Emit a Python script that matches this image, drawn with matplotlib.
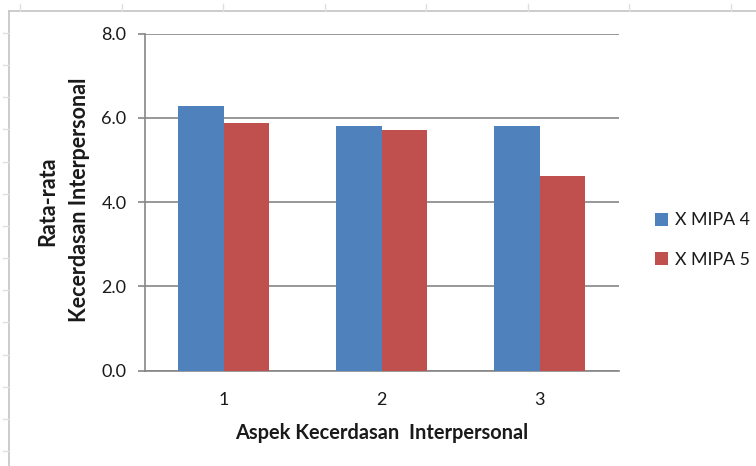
import matplotlib
matplotlib.use("Agg")
import matplotlib.pyplot as plt
from matplotlib.lines import Line2D
import numpy as np

categories = ["1", "2", "3"]
series_names = ["X MIPA 4", "X MIPA 5"]
mipa4 = [6.28, 5.80, 5.80]
mipa5 = [5.87, 5.72, 4.62]
yticks = [0.0, 2.0, 4.0, 6.0, 8.0]

blue = "#4F81BD"
red = "#C0504D"
grid_c = "#868686"

W, H = 756, 466
fig = plt.figure(figsize=(W / 100, H / 100), dpi=100)
fig.patch.set_facecolor("white")

ax = fig.add_axes([144.6 / W, 1 - 370.7 / H, (618.6 - 144.6) / W, (370.7 - 33.6) / H])

x = np.arange(len(categories))
bw = 0.288
ax.bar(x - bw / 2, mipa4, width=bw, color=blue, label=series_names[0], zorder=3)
ax.bar(x + bw / 2, mipa5, width=bw, color=red, label=series_names[1], zorder=3)

ax.set_xlim(-0.5, 2.5)
ax.set_ylim(0, 8)
ax.set_yticks(yticks)
ax.set_yticklabels([f"{v:.1f}" for v in yticks], fontfamily="Lato", fontsize=13, color="#1a1a1a")
ax.set_xticks(x)
ax.set_xticklabels(categories, fontfamily="Lato", fontsize=13, color="#1a1a1a")
ax.tick_params(axis="x", length=0, pad=15)
ax.tick_params(axis="y", length=5, color=grid_c, width=1.2, pad=8)
ax.yaxis.grid(True, color=grid_c, linewidth=1.2, zorder=0)
for s in ["top", "right"]:
    ax.spines[s].set_visible(False)
ax.spines["left"].set_color(grid_c)
ax.spines["bottom"].set_color(grid_c)
ax.spines["left"].set_linewidth(1.2)
ax.spines["bottom"].set_linewidth(1.2)

ax.set_xlabel("Aspek Kecerdasan  Interpersonal", fontfamily="Lato", fontweight="bold",
              fontsize=14.4, labelpad=11, color="#1a1a1a")
fig.text(58 / W, 1 - 201 / H, "Rata-rata", rotation=90, ha="right", va="center",
         fontfamily="Lato", fontweight="bold", fontsize=15.5, color="#1a1a1a")
fig.text(80 / W, 1 - 200 / H, "Kecerdasan Interpersonal", rotation=90, ha="center", va="center",
         fontfamily="Lato", fontweight="bold", fontsize=15.5, color="#1a1a1a")

leg = ax.legend(loc="center left", bbox_to_anchor=(639 / W, 1 - 240 / H),
                bbox_transform=fig.transFigure, frameon=False,
                prop={"family": "Lato", "size": 12.8}, handlelength=0.72, handleheight=0.72,
                handletextpad=0.4, labelspacing=1.3)
for t in leg.get_texts():
    t.set_color("#1a1a1a")

# page frame (light gray ruler-like border)
fc = "#C8C8C8"
fig.add_artist(Line2D([9 / W, 9 / W], [0, 1 - 11 / H], color=fc, lw=1.3, transform=fig.transFigure))
fig.add_artist(Line2D([9 / W, 1], [1 - 11 / H, 1 - 11 / H], color=fc, lw=1.3, transform=fig.transFigure))
for k in range(8):
    xp = 20 + 101.5 * k
    fig.add_artist(Line2D([xp / W, xp / W], [1 - 4 / H, 1 - 11 / H], color="#E0E0E0", lw=1, transform=fig.transFigure))
for k in range(14):
    yp = 33 + 32.15 * k
    fig.add_artist(Line2D([3 / W, 9 / W], [1 - yp / H, 1 - yp / H], color="#E0E0E0", lw=1, transform=fig.transFigure))

fig.savefig("out.png", dpi=100)
